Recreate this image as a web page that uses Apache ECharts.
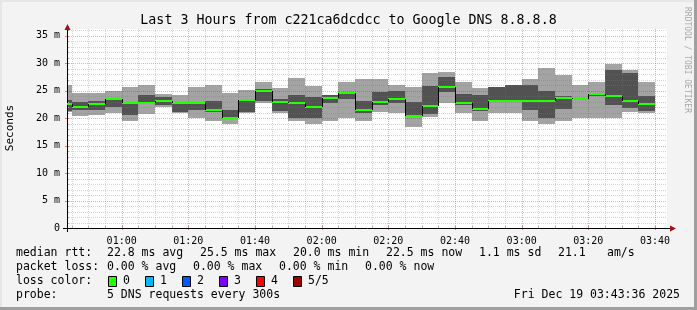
<!DOCTYPE html>
<html><head><meta charset="utf-8">
<script src="https://cdn.jsdelivr.net/npm/echarts@6/dist/echarts.min.js"></script>
<style>html,body{margin:0;padding:0;background:#f3f3f3}#c{width:697px;height:310px}</style>
</head><body><div id="c"></div>
<script>
// ---- data ----
const windowStart = '00:43:36';
const windowEnd = '03:43:36';
const stepEnd = ['00:45','00:50','00:55','01:00','01:05','01:10','01:15','01:20','01:25','01:30','01:35','01:40',
  '01:45','01:50','01:55','02:00','02:05','02:10','02:15','02:20','02:25','02:30','02:35','02:40',
  '02:45','02:50','02:55','03:00','03:05','03:10','03:15','03:20','03:25','03:30','03:35','03:40'];
const pingMax  = [26.0,24.6,24.6,25.0,25.6,26.1,24.4,24.2,25.6,26.1,24.5,25.1,26.6,25.4,27.3,25.8,24.2,26.6,27.1,27.1,26.0,25.6,28.2,28.4,26.6,25.4,25.7,26.1,27.1,29.15,27.8,26.1,26.6,29.8,28.7,26.6];
const pingHigh = [23.2,22.9,23.1,23.6,23.0,24.2,23.9,23.0,23.0,23.15,21.45,23.4,25.2,23.45,24.2,23.9,24.2,24.6,23.15,24.8,25.0,23.0,25.8,27.4,24.4,24.2,25.7,26.1,26.1,25.0,24.0,23.5,24.4,28.7,28.2,24.0];
const median   = [22.6,22.06,22.6,23.5,22.67,22.67,23.15,22.67,22.67,21.45,20.0,23.3,24.97,22.97,22.67,22.06,23.7,24.5,21.45,22.85,23.45,20.4,22.2,25.6,22.8,21.7,23.15,23.15,23.15,23.15,23.6,23.45,24.3,24.0,23.15,22.6];
const pingLow  = [21.2,21.4,21.4,22.1,20.5,22.5,22.4,21.1,21.45,21.15,19.95,21.15,23.1,21.3,19.95,19.95,22.67,23.4,21.0,22.4,22.67,20.4,20.7,24.8,22.4,21.3,23.15,23.15,21.45,19.95,21.6,23.3,24.0,22.4,21.8,21.3];
const pingMin  = [21.1,20.4,20.5,21.0,19.5,20.8,22.0,21.0,20.0,19.45,18.9,21.0,22.65,21.0,19.5,18.9,19.5,19.95,19.5,21.1,21.0,18.4,20.2,22.7,21.0,19.45,21.0,21.0,19.45,18.9,19.45,19.95,19.95,19.95,21.15,21.0];
const xTickLabels = ['01:00','01:20','01:40','02:00','02:20','02:40','03:00','03:20','03:40'];
const yTickValues = [0,5,10,15,20,25,30,35];
const yMax = 36.2;
const rttStats = ['22.8 ms avg','25.5 ms max','20.0 ms min','22.5 ms now','1.1 ms sd','21.1','am/s'];
const lossStats = ['0.00 % avg','0.00 % max','0.00 % min','0.00 % now'];
const lossLabels = ['0','1','2','3','4','5/5'];
const lossColors = ['#26ff00','#00b8ff','#0059ff','#7e00ff','#ff0000','#a10000'];
const probeText = '5 DNS requests every 300s';
const stampText = 'Fri Dec 19 03:43:36 2025';
const titleText = 'Last 3 Hours from c221ca6dcdcc to Google DNS 8.8.8.8';

// ---- helpers ----
function toMin(s){const p=s.split(':').map(Number);return p[0]*60+p[1]+(p[2]||0)/60;}
const xMin = toMin(windowStart), xMax = toMin(windowEnd);
const FONT = "'DejaVu Sans Mono', monospace";

const smokeData = stepEnd.map((t,i)=>{
  const e = toMin(t), s = Math.max(e-5, xMin);
  return [s, e, pingMin[i], pingLow[i], median[i], pingHigh[i], pingMax[i]];
});
const medData = stepEnd.map((t,i)=>{
  const e = toMin(t), s = Math.max(e-5, xMin);
  return [s, e, median[i], i>0 ? median[i-1] : median[i]];
});

// grid lines: kind 0 minor vertical, 1 major vertical, 2 minor horizontal, 3 major horizontal, 4 axes
const gridData = [];
for (let m = Math.ceil(xMin/5)*5; m <= xMax; m += 5) gridData.push([m % 20 === 0 ? 1 : 0, m]);
for (let v = 1; v <= Math.floor(yMax); v++) gridData.push([v % 5 === 0 ? 3 : 2, v]);
gridData.push([4, 0]);

const minorCol = 'rgba(120,120,120,0.32)';
const majorCol = 'rgba(255,0,0,0.36)';
const arrowCol = '#a01010';

const xTickValues = xTickLabels.map(toMin);

const chart = echarts.init(document.getElementById('c'));
const graphics = [];
// frame shading
graphics.push({type:'rect',shape:{x:0,y:0,width:697,height:2},style:{fill:'#e6e6e6'},silent:true});
graphics.push({type:'rect',shape:{x:0,y:0,width:2,height:310},style:{fill:'#e6e6e6'},silent:true});
graphics.push({type:'rect',shape:{x:694,y:0,width:3,height:310},style:{fill:'#9f9f9f'},silent:true});
graphics.push({type:'rect',shape:{x:0,y:307,width:697,height:3},style:{fill:'#9f9f9f'},silent:true});
// watermark
graphics.push({type:'text',x:687,y:60,rotation:-Math.PI/2,style:{text:'RRDTOOL / TOBI OETIKER',font:"8px "+FONT,fill:'#a8a8a8',align:'center',verticalAlign:'middle'}});
// y axis name
graphics.push({type:'text',x:10,y:128,rotation:Math.PI/2,style:{text:'Seconds',font:"11px "+FONT,fill:'#000',align:'center',verticalAlign:'middle'}});
// legend rows
const LF = "11.5px "+FONT;
function txt(t,x,y,align){graphics.push({type:'text',x:x,y:y,style:{text:t,font:LF,fill:'#000',align:align||'left',verticalAlign:'middle'}});}
txt('median rtt:',16,253);
const rttX=[107,200,293,386,479,558,607];
rttStats.forEach((t,i)=>txt(t,rttX[i],253));
txt('packet loss:',16,267);
const lossX=[107,193,279,365];
lossStats.forEach((t,i)=>txt(t,lossX[i],267));
txt('loss color:',16,281);
lossLabels.forEach((t,i)=>{
  const bx = 108 + i*37;
  graphics.push({type:'rect',shape:{x:bx+0.5,y:276.5,width:8,height:10},style:{fill:lossColors[i],stroke:'#000',lineWidth:1}});
  txt(t,bx+15,281);
});
txt('probe:',16,295);
txt(probeText,107,295);
txt(stampText,680,295,'right');

chart.setOption({
  animation:false,
  backgroundColor:'#f3f3f3',
  title:{text:titleText,left:'center',top:9,textStyle:{fontFamily:FONT,fontSize:13.3,fontWeight:'normal',color:'#000'}},
  grid:{left:67,right:30,top:29,bottom:82,backgroundColor:'#fff',show:true,borderWidth:0,containLabel:false,outerBoundsMode:'none'},
  xAxis:{type:'value',min:xMin,max:xMax,
    axisLine:{show:false},axisTick:{show:false},splitLine:{show:false},
    axisLabel:{customValues:xTickValues,margin:8,fontFamily:FONT,fontSize:10,color:'#000',
      formatter:(v)=>{const i=xTickValues.findIndex(x=>Math.abs(x-v)<1e-6);return i>=0?xTickLabels[i]:'';}}},
  yAxis:{type:'value',min:0,max:yMax,
    axisLine:{show:false},axisTick:{show:false},splitLine:{show:false},
    axisLabel:{customValues:yTickValues,margin:7,fontFamily:FONT,fontSize:10,color:'#000',
      formatter:(v)=>v===0?'0':(v+' m')}},
  graphic:graphics,
  series:[
    {type:'custom',name:'smoke',z:1,clip:false,data:smokeData,encode:{x:[0,1],y:[2,3,4,5,6]},
      renderItem:(params,api)=>{
        const x0=Math.round(api.coord([api.value(0),0])[0]);
        const x1=Math.round(api.coord([api.value(1),0])[0]);
        const yv=(v)=>Math.round(api.coord([api.value(0),v])[1]);
        const p1=yv(api.value(2)),p2=yv(api.value(3)),p4=yv(api.value(5)),p5=yv(api.value(6));
        return {type:'group',children:[
          {type:'rect',shape:{x:x0,y:p5,width:x1-x0,height:p1-p5},style:{fill:'#a3a3a3'}},
          {type:'rect',shape:{x:x0,y:p4,width:x1-x0,height:Math.max(p2-p4,0)},style:{fill:'#525252'}}
        ]};
      }},
    {type:'custom',name:'grid',z:2,clip:false,data:gridData,encode:{x:1,y:1},
      renderItem:(params,api)=>{
        const k=api.value(0),v=api.value(1);
        const cs=params.coordSys;
        const left=cs.x, right=cs.x+cs.width, top=cs.y, bottom=cs.y+cs.height;
        if(k<=1){
          const x=Math.round(api.coord([v,0])[0])+0.5;
          return {type:'group',children:[
            {type:'line',shape:{x1:x,y1:top,x2:x,y2:bottom},style:{stroke:k?majorCol:minorCol,lineWidth:1,lineDash:[1,1]}},
            {type:'line',shape:{x1:x,y1:bottom-2,x2:x,y2:bottom+(k?2:0)},style:{stroke:k?'#e08080':'#b0b0b0',lineWidth:1}}
          ]};
        } else if(k<=3){
          const y=Math.round(api.coord([xMin,v])[1])+0.5;
          return {type:'group',children:[
            {type:'line',shape:{x1:left,y1:y,x2:right,y2:y},style:{stroke:k===3?majorCol:minorCol,lineWidth:1,lineDash:[1,1]}},
            {type:'line',shape:{x1:left-(k===3?2:0),y1:y,x2:left+2,y2:y},style:{stroke:k===3?'#e08080':'#b0b0b0',lineWidth:1}}
          ]};
        } else {
          const ax=Math.round(left)+0.5, ay=Math.round(bottom)+0.5;
          return {type:'group',children:[
            {type:'line',shape:{x1:left-4,y1:ay,x2:right+5,y2:ay},style:{stroke:'#000',lineWidth:1}},
            {type:'line',shape:{x1:ax,y1:bottom+4,x2:ax,y2:top-2},style:{stroke:'#000',lineWidth:1}},
            {type:'polygon',shape:{points:[[right+9,ay],[right+3,ay-3],[right+3,ay+3]]},style:{fill:arrowCol}},
            {type:'polygon',shape:{points:[[ax,top-5],[ax-3,top+1],[ax+3,top+1]]},style:{fill:arrowCol}}
          ]};
        }
      }},
    {type:'custom',name:'median',z:3,clip:false,data:medData,encode:{x:[0,1],y:[2,3]},
      renderItem:(params,api)=>{
        const x0=Math.round(api.coord([api.value(0),0])[0]);
        const x1=Math.round(api.coord([api.value(1),0])[0]);
        const ym=Math.round(api.coord([api.value(0),api.value(2)])[1]);
        const yp=Math.round(api.coord([api.value(0),api.value(3)])[1]);
        const ch=[{type:'line',shape:{x1:x0,y1:ym,x2:x1,y2:ym},style:{stroke:lossColors[0],lineWidth:2}}];
        if(yp!==ym) ch.push({type:'line',shape:{x1:x0+0.5,y1:yp,x2:x0+0.5,y2:ym},style:{stroke:'#000',lineWidth:1}});
        return {type:'group',children:ch};
      }}
  ]
});
</script></body></html>
